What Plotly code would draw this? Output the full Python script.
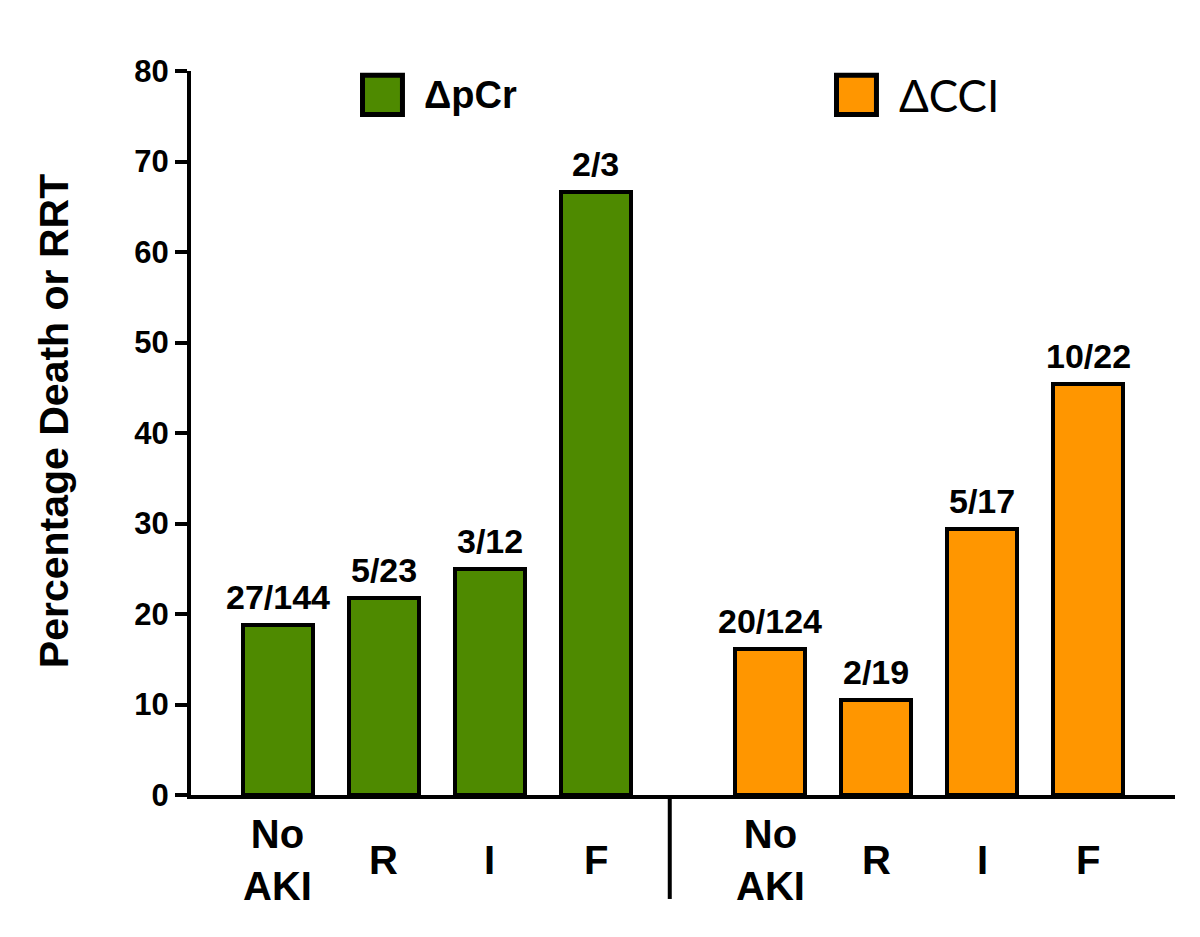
import plotly.graph_objects as go

# categories and values
categories = ["No<br>AKI", "R", "I", "F"]
pcr_pos = [0, 1, 2, 3]
cci_pos = [4.65, 5.65, 6.65, 7.65]
pcr_values = [18.75, 21.74, 25.0, 66.67]
cci_values = [16.13, 10.53, 29.41, 45.45]
pcr_labels = ["27/144", "5/23", "3/12", "2/3"]
cci_labels = ["20/124", "2/19", "5/17", "10/22"]
y_ticks = [0, 10, 20, 30, 40, 50, 60, 70, 80]

GREEN = "#4e8a00"
ORANGE = "#ff9600"
FONT = "Liberation Sans, Arial, sans-serif"
NARROW = "Liberation Sans Narrow, Arial Narrow, Liberation Sans, sans-serif"

fig = go.Figure()
annotations = []

for pos, vals, labels, color, name in [
    (pcr_pos, pcr_values, pcr_labels, GREEN, "ΔpCr"),
    (cci_pos, cci_values, cci_labels, ORANGE, "ΔCCI"),
]:
    fig.add_trace(go.Bar(
        x=pos, y=vals, name=name,
        width=0.66,
        marker=dict(color=color, line=dict(color="black", width=4)),
        showlegend=False,
    ))
    # n/N counts over the bars
    for p, v, lab in zip(pos, vals, labels):
        annotations.append(dict(
            x=p, y=v, xref="x", yref="y", text=f"<b>{lab}</b>", showarrow=False,
            yanchor="bottom", yshift=7,
            font=dict(family=NARROW, size=34, color="black"),
        ))
    # category labels under each group, vertically centred like the original
    for p, cat in zip(pos, categories):
        annotations.append(dict(
            x=p, y=-0.09, xref="x", yref="paper", text=f"<b>{cat}</b>",
            showarrow=False, yanchor="middle", xanchor="center",
            font=dict(family=FONT, size=40, color="black"),
        ))

# hand-made legend boxes
shapes = [
    dict(type="rect", xref="paper", yref="paper", x0=0.1743, x1=0.2149, y0=0.940, y1=0.994,
         fillcolor=GREEN, line=dict(color="black", width=5)),
    dict(type="rect", xref="paper", yref="paper", x0=0.656, x1=0.6966, y0=0.940, y1=0.994,
         fillcolor=ORANGE, line=dict(color="black", width=5)),
    # divider between the two groups
    dict(type="line", xref="x", yref="paper", x0=3.70, x1=3.70, y0=0, y1=-0.1436,
         line=dict(color="black", width=4)),
]
annotations += [
    dict(x=0.2348, y=0.967, xref="paper", yref="paper", text="<b>ΔpCr</b>", showarrow=False,
         xanchor="left", yanchor="middle", font=dict(family=FONT, size=38, color="black")),
    dict(x=0.7175, y=0.967, xref="paper", yref="paper", text="ΔCCI", showarrow=False,
         xanchor="left", yanchor="middle", font=dict(family="Lato, sans-serif", size=44, color="black")),
    dict(x=-0.139, y=0.5166, xref="paper", yref="paper", text="<b>Percentage Death or RRT</b>",
         showarrow=False, textangle=-90, xanchor="center", yanchor="middle",
         font=dict(family=FONT, size=41, color="black")),
]

fig.update_layout(
    width=1200, height=937,
    margin=dict(l=183, r=33, t=63, b=150),
    paper_bgcolor="white", plot_bgcolor="white",
    bargap=0,
    shapes=shapes, annotations=annotations,
    xaxis=dict(
        range=[-0.82, 8.47], showgrid=False, zeroline=False,
        showline=True, linecolor="black", linewidth=4,
        showticklabels=False, ticks="",
    ),
    yaxis=dict(
        range=[0, 80], tickvals=y_ticks, showgrid=False, zeroline=False,
        showline=True, linecolor="black", linewidth=4,
        ticks="outside", ticklen=12, tickwidth=4, tickcolor="black",
        tickfont=dict(family=FONT, size=31, color="black", weight="bold"),
    ),
)

fig.write_html("out.html")
